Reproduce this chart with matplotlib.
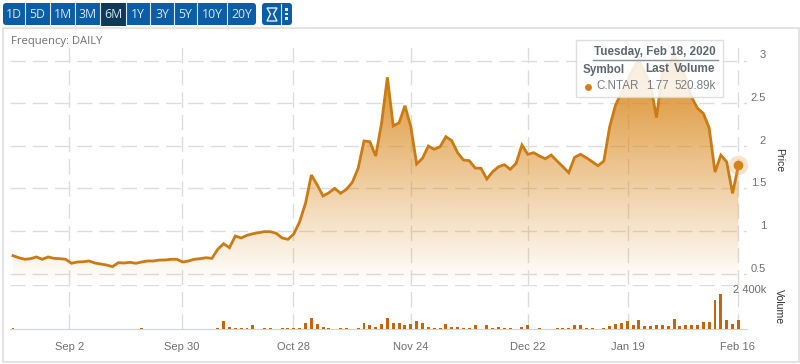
import numpy as np
import matplotlib
matplotlib.use("Agg")
import matplotlib.pyplot as plt
from matplotlib.patches import Rectangle, FancyBboxPatch, Polygon
from matplotlib.colors import to_rgb

# ---------- data ----------
range_buttons = ["1D", "5D", "1M", "3M", "6M", "1Y", "3Y", "5Y", "10Y", "20Y"]
active_button = "6M"
price = [0.709,0.685,0.667,0.674,0.694,0.667,0.694,0.678,0.674,0.667,
         0.620,0.635,0.638,0.647,0.623,0.611,0.600,0.580,0.627,0.623,
         0.631,0.620,0.635,0.647,0.647,0.658,0.658,0.667,0.667,0.635,
         0.647,0.667,0.674,0.685,0.678,0.784,0.850,0.803,0.940,0.917,
         0.948,0.967,0.979,0.991,0.991,0.972,0.917,0.901,0.964,1.108,
         1.324,1.656,1.539,1.410,1.448,1.500,1.441,1.488,1.570,1.735,
         2.055,2.047,1.879,2.263,2.803,2.231,2.270,2.469,2.223,1.785,
         1.852,1.996,1.958,1.988,2.106,2.059,1.918,1.832,1.824,1.738,
         1.735,1.609,1.695,1.753,1.777,1.723,1.793,2.008,1.899,1.918,
         1.879,1.847,1.891,1.820,1.753,1.683,1.864,1.899,1.859,1.812,
         1.765,1.820,2.223,2.478,2.62,2.75,2.90,3.00,2.86,2.71,
         2.33,2.86,2.93,3.06,2.95,2.79,2.57,2.44,2.38,2.21,
         1.69,1.89,1.81,1.44,1.77]
volume = [54,0,0,0,0,0,0,0,0,0,0,0,0,0,0,0,0,0,0,0,0,0,54,0,0,0,0,0,0,0,
          0,0,0,0,0,54,470,108,72,72,72,234,0,54,54,0,90,54,54,90,
          360,612,288,126,54,0,54,54,0,90,324,234,144,270,594,360,324,234,270,432,
          360,108,54,54,306,108,108,72,54,234,0,216,72,108,72,54,0,144,216,0,
          54,0,0,54,54,90,216,216,72,54,0,54,180,288,360,450,216,486,162,162,
          216,216,162,540,162,216,216,252,378,378,1566,1926,522,306,521]
x_tick_pos = [9.62, 28.85, 47.9, 68.0, 88.0, 105.1, 123.9]
x_tick_labels = ["Sep 2", "Sep 30", "Oct 28", "Nov 24", "Dec 22", "Jan 19", "Feb 16"]
price_ticks = [0.5, 1, 1.5, 2, 2.5, 3]
price_tick_labels = ["0.5", "1", "1.5", "2", "2.5", "3"]
volume_tick = 2400
volume_tick_label = "2 400k"

# ---------- layout helpers (pixel geometry of the 800x364 canvas) ----------
W, H = 800, 364
LINE = "#cc7a12"
BAR = "#c4640c"
GRID = "#dcdcdc"
TXT = "#6e6e6e"
SANS = "Liberation Sans"

fig = plt.figure(figsize=(W / 100, H / 100), dpi=100, facecolor="white")

def px_axes(x0, y0, x1, y1, **kw):
    return fig.add_axes([x0 / W, 1 - y1 / H, (x1 - x0) / W, (y1 - y0) / H], **kw)

# overlay in pixel coordinates for the page chrome
bg = px_axes(0, 0, W, H, zorder=0)
bg.set_xlim(0, W); bg.set_ylim(H, 0); bg.axis("off")
bg.add_patch(Rectangle((3, 28), 796, 334, fc="white", ec="#dedede", lw=1.2))
bg.text(11, 41.5, "Frequency: DAILY", family="Open Sans", fontsize=8.1, color="#707070", va="center")

BLUE = "#0b5ea6"; DARK = "#0e3a57"
bg.add_patch(FancyBboxPatch((3, 3), 253, 22, boxstyle="round,pad=0,rounding_size=3", fc=BLUE, ec="none"))
bx = [2, 25, 50, 75, 100, 126, 150, 174, 197, 227, 257]
for i, lab in enumerate(range_buttons):
    if lab == active_button:
        bg.add_patch(Rectangle((bx[i] + .5, 2.5), bx[i + 1] - bx[i] - 1, 23, fc=DARK, ec="none"))
    if i:
        bg.plot([bx[i], bx[i]], [2.5, 25.5], color="#d8e6f2", lw=0.8)
    bg.text((bx[i] + bx[i + 1]) / 2, 14.3, lab, family="Open Sans", fontsize=8.8, color="#d7e6f3",
            ha="center", va="center")
bg.add_patch(FancyBboxPatch((262, 3), 30, 22, boxstyle="round,pad=0,rounding_size=3", fc=BLUE, ec="none"))
bg.add_patch(Polygon([(267, 8), (277, 8), (273.5, 14), (277, 21), (267, 21), (270.5, 14)], fc="none", ec="#e4eef7", lw=1))
bg.plot([281, 281], [4, 24], color="#d8e6f2", lw=0.8)
for yy in (9, 13.5, 18):
    bg.add_patch(Rectangle((285, yy - 1), 2.6, 2.6, fc="#e4eef7", ec="none"))

# ---------- price panel ----------
x = np.arange(len(price))
PL, PR, PT, PB = 10, 747, 45, 285
PX0, PDX = 13.0, 5.85
PY05, PPU = 273.5, 85.2
ax = px_axes(PL, PT, PR, PB, zorder=1)
ax.patch.set_alpha(0)
ax.set_xlim((PL - PX0) / PDX, (PR - PX0) / PDX)
ax.set_ylim(0.5 + (PY05 - PB) / PPU, 0.5 + (PY05 - PT) / PPU)
for s in ax.spines.values():
    s.set_visible(False)

dash = (0, (11, 5))
ax.set_xticks(x_tick_pos); ax.set_xticklabels([])
ax.set_yticks(price_ticks); ax.set_yticklabels(price_tick_labels)
ax.yaxis.tick_right()
ax.tick_params(axis="both", length=0)
ax.tick_params(axis="y", pad=13.7, labelcolor=TXT, labelsize=8)
for lab in ax.get_yticklabels():
    lab.set_ha("right"); lab.set_va("bottom"); lab.set_family(SANS)
ax.grid(True, color=GRID, lw=1, linestyle=dash)
ax.set_axisbelow(True)

# gradient area under the line
rgb = to_rgb("#d98a20")
grad = np.ones((256, 1, 4))
grad[..., 0], grad[..., 1], grad[..., 2] = rgb
grad[:, 0, 3] = np.linspace(1.0, 0.0, 256) ** 1.05
ymin = ax.get_ylim()[0]
im = ax.imshow(grad, extent=[x[0], x[-1], ymin, max(price)], aspect="auto", zorder=2, interpolation="bilinear")
poly = ax.fill_between(x, price, ymin, color="none", zorder=2)
im.set_clip_path(poly.get_paths()[0], transform=ax.transData)
ax.set_xlim((PL - PX0) / PDX, (PR - PX0) / PDX)
ax.set_ylim(0.5 + (PY05 - PB) / PPU, 0.5 + (PY05 - PT) / PPU)
ax.plot(x, price, color=LINE, lw=2.0, zorder=3, solid_joinstyle="miter")
ax.plot(x[-1], price[-1], "o", ms=14, color="#e8a050", alpha=0.3, mew=0, zorder=4, clip_on=False)
ax.plot(x[-1], price[-1], "o", ms=7, color="#d5811a", mew=0, zorder=5, clip_on=False)

# ---------- volume panel ----------
vax = px_axes(PL, 285, PR, 329.3, zorder=1)
vax.patch.set_alpha(0)
vax.set_xlim(ax.get_xlim())
vax.set_ylim(0, volume_tick)
for s in vax.spines.values():
    s.set_visible(False)
vax.spines["bottom"].set_visible(True)
vax.spines["bottom"].set_color("#ccd6eb")
vax.bar(x, volume, width=0.5, color=BAR, zorder=3)
vax.set_xticks(x_tick_pos); vax.set_xticklabels(x_tick_labels, family=SANS, fontsize=8, color=TXT)
vax.set_yticks([volume_tick]); vax.set_yticklabels([volume_tick_label])
vax.yaxis.tick_right()
vax.tick_params(axis="both", length=0)
vax.tick_params(axis="x", pad=9.5)
vax.tick_params(axis="y", pad=13.7, labelcolor=TXT, labelsize=8)
for lab in vax.get_yticklabels():
    lab.set_ha("right"); lab.set_va("top"); lab.set_family(SANS)
vax.grid(True, color=GRID, lw=1, linestyle=dash)
vax.set_axisbelow(True)

# ---------- axis titles + tooltip overlay ----------
fg = px_axes(0, 0, W, H, zorder=5)
fg.set_xlim(0, W); fg.set_ylim(H, 0); fg.axis("off"); fg.patch.set_alpha(0)
fg.text(779, 160, "Price", family=SANS, fontsize=7.6, color="#333333", rotation=-90, ha="center", va="center")
fg.text(779, 307, "Volume", family=SANS, fontsize=7.6, color="#333333", rotation=-90, ha="center", va="center")

fg.add_patch(Rectangle((575.5, 40), 147, 57, fc="white", ec="#d9d9d9", lw=1, alpha=0.86))
TT = "#5f6670"
fg.text(715.5, 51.7, "Tuesday, Feb 18, 2020", family=SANS, fontsize=8.4, weight="bold", color=TT, ha="right", va="center")
fg.plot([593, 718], [60, 60], color="#8a8f96", lw=1)
fg.text(583, 69.5, "Symbol", family=SANS, fontsize=8.4, weight="bold", color=TT, ha="left", va="center")
fg.text(669, 69.5, "Last", family=SANS, fontsize=8.4, weight="bold", color=TT, ha="right", va="center")
fg.text(715.5, 69.5, "Volume", family=SANS, fontsize=8.4, weight="bold", color=TT, ha="right", va="center")
fg.plot([588], [86.5], "o", ms=5, color="#d5811a", mew=0)
fg.text(596, 86, "C.NTAR", family=SANS, fontsize=8.4, color="#7a7f86", ha="left", va="center")
fg.text(669, 86, "1.77", family=SANS, fontsize=8.4, color="#7a7f86", ha="right", va="center")
fg.text(716, 86, "520.89k", family=SANS, fontsize=8.4, color="#7a7f86", ha="right", va="center")

fig.savefig("out.png", dpi=100)
